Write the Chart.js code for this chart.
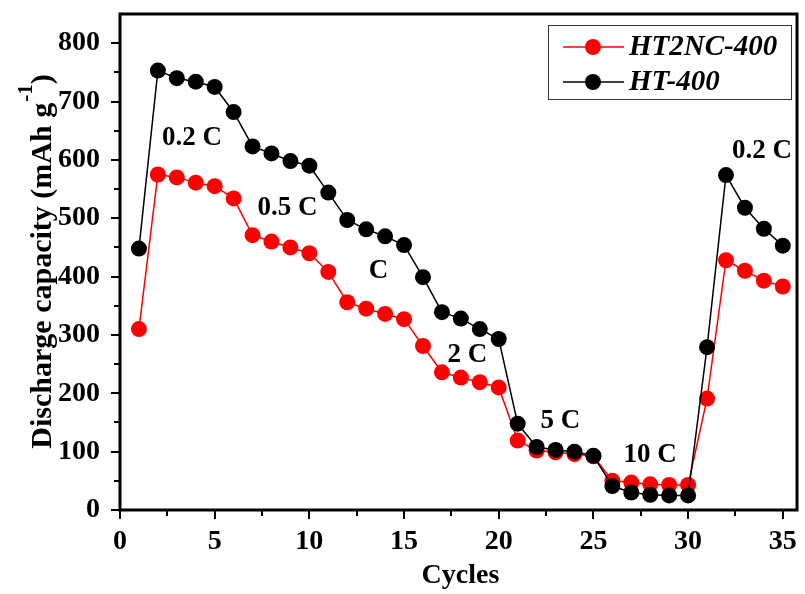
<!DOCTYPE html>
<html>
<head>
<meta charset="utf-8">
<script src="https://cdn.jsdelivr.net/npm/chart.js@4/dist/chart.umd.min.js"></script>
<style>
  html, body { margin: 0; padding: 0; background: #fff; }
  canvas { display: block; }
</style>
</head>
<body>
<canvas id="rate" width="805" height="594"></canvas>
<script>
(function () {
  'use strict';

  const cycles = [1, 2, 3, 4, 5, 6, 7, 8, 9, 10, 11, 12, 13, 14, 15, 16, 17, 18, 19, 20,
    21, 22, 23, 24, 25, 26, 27, 28, 29, 30, 31, 32, 33, 34, 35];
  const ht2nc400 = [310, 575, 570, 561, 555, 534, 471, 460, 450, 440, 408, 356, 345, 336, 327, 281, 236, 227, 219, 210,
    119, 102, 99, 96, 92, 50, 47, 44, 43, 43, 191, 428, 410, 393, 383];
  const ht400 = [448, 753, 740, 734, 725, 682, 623, 611, 598, 590, 544, 497, 481, 469, 454, 399, 339, 328, 310, 293,
    148, 108, 103, 100, 93, 41, 30, 26, 25, 25, 279, 574, 518, 482, 453];

  const xTicks = [0, 5, 10, 15, 20, 25, 30, 35];
  const yTicks = [0, 100, 200, 300, 400, 500, 600, 700, 800];

  // rate labels, anchored in data units (cycle, capacity)
  const rateLabels = [
    { text: '0.2 C', x: 3.8, y: 637 },
    { text: '0.5 C', x: 8.85, y: 517 },
    { text: 'C', x: 13.65, y: 409 },
    { text: '2 C', x: 18.35, y: 265 },
    { text: '5 C', x: 23.25, y: 152 },
    { text: '10 C', x: 28.0, y: 94 },
    { text: '0.2 C', x: 33.9, y: 616 }
  ];

  const SERIF = "'Liberation Serif', 'Times New Roman', serif";
  const series = [
    { label: 'HT2NC-400', data: ht2nc400, color: '#ff0000', order: 1 },
    { label: 'HT-400', data: ht400, color: '#000000', order: 0 }
  ];

  function toPoints(values) {
    return cycles.map((c, i) => ({ x: c, y: values[i] }));
  }

  function fixScale(size, horizontal) {
    return function (s) {
      if (horizontal) s.height = size; else s.width = size;
      s.paddingTop = 0; s.paddingBottom = 0; s.paddingLeft = 0; s.paddingRight = 0;
    };
  }

  const decorPlugin = {
    id: 'decor',
    afterDraw(chart) {
      const { ctx, chartArea: a, scales: { x, y } } = chart;
      ctx.save();

      // frame
      ctx.strokeStyle = '#000';
      ctx.lineWidth = 3;
      ctx.strokeRect(a.left, a.top, a.right - a.left, a.bottom - a.top);

      // outward ticks, major and minor
      ctx.lineWidth = 2;
      ctx.beginPath();
      xTicks.forEach(v => {
        const px = Math.round(x.getPixelForValue(v));
        ctx.moveTo(px, a.bottom); ctx.lineTo(px, a.bottom + 9);
        if (v + 2.5 < x.max) {
          const pm = Math.round(x.getPixelForValue(v + 2.5));
          ctx.moveTo(pm, a.bottom); ctx.lineTo(pm, a.bottom + 6);
        }
      });
      yTicks.forEach(v => {
        const py = Math.round(y.getPixelForValue(v));
        ctx.moveTo(a.left, py); ctx.lineTo(a.left - 9, py);
        if (v + 50 < y.max) {
          const pm = Math.round(y.getPixelForValue(v + 50));
          ctx.moveTo(a.left, pm); ctx.lineTo(a.left - 6, pm);
        }
      });
      ctx.stroke();

      // axis titles
      ctx.fillStyle = '#000';
      ctx.font = 'bold 28px ' + SERIF;
      ctx.textAlign = 'center';
      ctx.textBaseline = 'alphabetic';
      ctx.fillText('Cycles', (a.left + a.right) / 2 + 2, 583);

      ctx.save();
      ctx.translate(51, 262);
      ctx.rotate(-Math.PI / 2);
      const main = 'Discharge capacity (mAh g';
      ctx.font = 'bold 30px ' + SERIF;
      const wMain = ctx.measureText(main).width;
      const wClose = ctx.measureText(')').width;
      ctx.font = 'bold 21px ' + SERIF;
      const wSup = ctx.measureText('-1').width;
      let tx = -(wMain + wSup + wClose) / 2;
      ctx.textAlign = 'left';
      ctx.font = 'bold 30px ' + SERIF;
      ctx.fillText(main, tx, 0);
      tx += wMain;
      ctx.font = 'bold 21px ' + SERIF;
      ctx.fillText('-1', tx + 1, -19);
      tx += wSup;
      ctx.font = 'bold 30px ' + SERIF;
      ctx.fillText(')', tx + 1, 0);
      ctx.restore();

      // rate annotations
      ctx.font = 'bold 27px ' + SERIF;
      ctx.textAlign = 'center';
      ctx.textBaseline = 'middle';
      rateLabels.forEach(l => {
        ctx.fillText(l.text, x.getPixelForValue(l.x), y.getPixelForValue(l.y));
      });

      // legend box
      ctx.lineWidth = 1;
      ctx.strokeStyle = '#333';
      ctx.strokeRect(548.5, 25.5, 243, 74);
      series.forEach((s, i) => {
        const ly = 47 + i * 35;
        ctx.strokeStyle = s.color;
        ctx.lineWidth = 1.5;
        ctx.beginPath();
        ctx.moveTo(563, ly); ctx.lineTo(624, ly);
        ctx.stroke();
        ctx.fillStyle = s.color;
        ctx.beginPath();
        ctx.arc(593, ly, 8, 0, Math.PI * 2);
        ctx.fill();
        ctx.fillStyle = '#000';
        ctx.font = 'italic bold 29px ' + SERIF;
        ctx.textAlign = 'left';
        ctx.textBaseline = 'middle';
        ctx.fillText(s.label, 629, ly + 1);
      });

      ctx.restore();
    }
  };

  const tickFont = { family: SERIF, size: 28, weight: 'bold' };

  new Chart(document.getElementById('rate').getContext('2d'), {
    type: 'line',
    data: {
      datasets: series.map(s => ({
        label: s.label,
        data: toPoints(s.data),
        borderColor: s.color,
        backgroundColor: s.color,
        pointBackgroundColor: s.color,
        pointBorderColor: s.color,
        pointRadius: 8,
        pointBorderWidth: 0,
        borderWidth: 1.5,
        tension: 0,
        fill: false,
        order: s.order
      }))
    },
    options: {
      responsive: false,
      animation: false,
      events: [],
      layout: { padding: { top: 14, right: 5, left: 0, bottom: 0 } },
      plugins: { legend: { display: false }, tooltip: { enabled: false } },
      scales: {
        x: {
          type: 'linear',
          min: 0,
          max: 35.75,
          grid: { display: false },
          border: { display: false },
          afterBuildTicks: s => { s.ticks = xTicks.map(v => ({ value: v })); },
          afterFit: fixScale(84, true),
          ticks: { color: '#000', font: tickFont, padding: 7, autoSkip: false, maxRotation: 0 }
        },
        y: {
          type: 'linear',
          min: 0,
          max: 850,
          grid: { display: false },
          border: { display: false },
          afterBuildTicks: s => { s.ticks = yTicks.map(v => ({ value: v })); },
          afterFit: fixScale(120, false),
          ticks: { color: '#000', font: tickFont, padding: 12, autoSkip: false }
        }
      }
    },
    plugins: [decorPlugin]
  });
})();
</script>
</body>
</html>
